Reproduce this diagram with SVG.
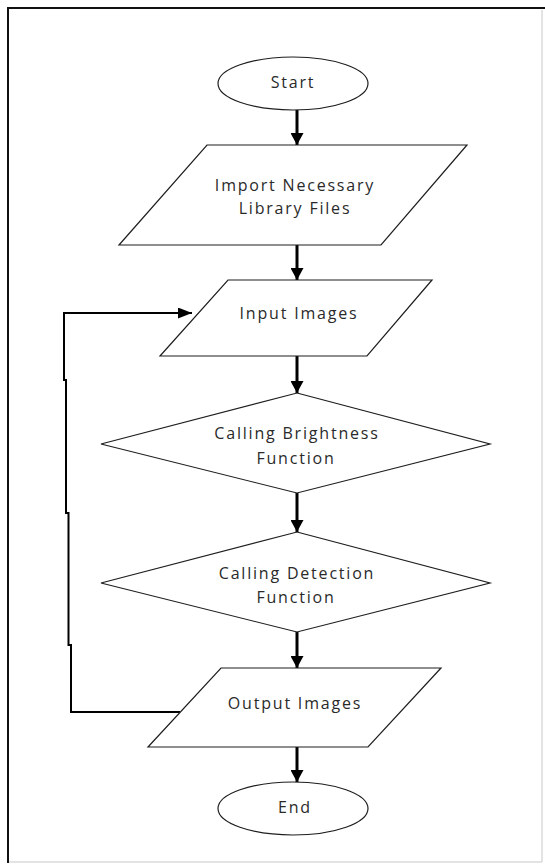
<svg xmlns="http://www.w3.org/2000/svg" width="545" height="865" viewBox="0 0 545 865">
  <style>
    .shape { fill: #ffffff; stroke: #1e1e1e; stroke-width: 1.2; }
    .label { font-family: "Open Sans", "Liberation Sans", sans-serif; font-size: 16px; letter-spacing: 1.8px; fill: #2a2a2a; text-anchor: middle; }
    .flow { fill: none; stroke: #000000; stroke-width: 3; }
    .loop { fill: none; stroke: #000000; stroke-width: 2; }
  </style>
  <defs>
    <marker id="head" markerUnits="userSpaceOnUse" markerWidth="14" markerHeight="13" refX="12" refY="6.5" orient="auto">
      <path d="M0,0 L12,6.5 L0,13 Z" fill="#000000"/>
    </marker>
    <marker id="headSmall" markerUnits="userSpaceOnUse" markerWidth="15" markerHeight="11" refX="14" refY="5.5" orient="auto">
      <path d="M0,0 L14,5.5 L0,11 Z" fill="#000000"/>
    </marker>
  </defs>

  <rect width="545" height="865" fill="#ffffff"/>

  <!-- page frame -->
  <g id="frame">
    <path d="M8,863 V8 H545" fill="none" stroke="#111111" stroke-width="2"/>
    <path d="M542,10 V862 H9" fill="none" stroke="#c8c8c8" stroke-width="1"/>
  </g>

  <!-- connectors -->
  <g id="connectors">
    <line class="flow" x1="297" y1="110" x2="297" y2="145" marker-end="url(#head)"/>
    <line class="flow" x1="297" y1="245" x2="297" y2="280" marker-end="url(#head)"/>
    <line class="flow" x1="297" y1="356" x2="297" y2="393" marker-end="url(#head)"/>
    <line class="flow" x1="297" y1="493" x2="297" y2="532" marker-end="url(#head)"/>
    <line class="flow" x1="297" y1="632" x2="297" y2="668" marker-end="url(#head)"/>
    <line class="flow" x1="297" y1="747" x2="297" y2="782" marker-end="url(#head)"/>
    <path class="loop" d="M180,712 H71 V645 H68.5 V513 H66 V380 H64 V313 H192" marker-end="url(#headSmall)"/>
  </g>

  <g id="start">
    <ellipse class="shape" cx="293" cy="83.5" rx="75" ry="26.5"/>
    <text class="label" x="293" y="88">Start</text>
  </g>

  <g id="import-libraries">
    <polygon class="shape" points="207,145 467,145 381,245 119,245"/>
    <text class="label" x="295" y="191">Import Necessary</text>
    <text class="label" x="295" y="214">Library Files</text>
  </g>

  <g id="input-images">
    <polygon class="shape" points="228,280 432,280 367,356 160,356"/>
    <text class="label" x="299" y="319">Input Images</text>
  </g>

  <g id="brightness">
    <polygon class="shape" points="297,393 490,444 297,493 101,444"/>
    <text class="label" x="297" y="439">Calling Brightness</text>
    <text class="label" x="296" y="464">Function</text>
  </g>

  <g id="detection">
    <polygon class="shape" points="297,532 490,583 297,632 101,583"/>
    <text class="label" x="297" y="579">Calling Detection</text>
    <text class="label" x="296" y="603">Function</text>
  </g>

  <g id="output-images">
    <polygon class="shape" points="221,668 441,668 368,747 148,747"/>
    <text class="label" x="295" y="709">Output Images</text>
  </g>

  <g id="end">
    <ellipse class="shape" cx="293" cy="808.5" rx="75" ry="26.5"/>
    <text class="label" x="295" y="813">End</text>
  </g>
</svg>
